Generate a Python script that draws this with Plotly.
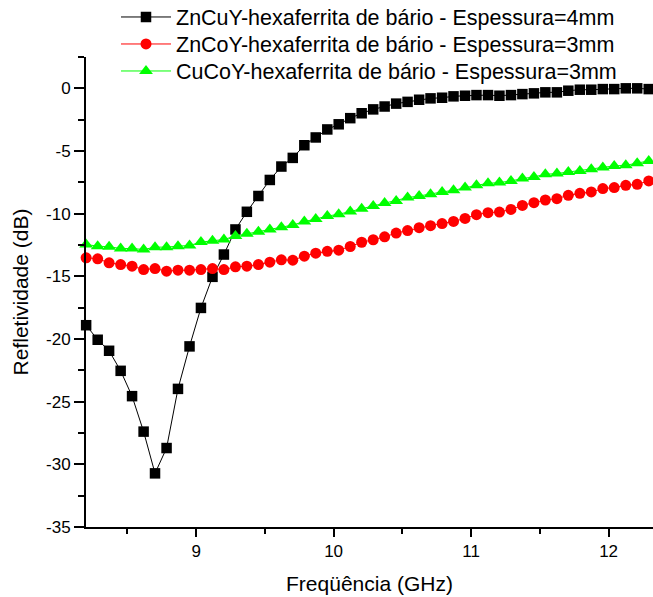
import plotly.graph_objects as go

freq = [8.200, 8.284, 8.367, 8.451, 8.534, 8.618, 8.701, 8.785, 8.868, 8.952,
        9.035, 9.119, 9.202, 9.286, 9.369, 9.453, 9.536, 9.620, 9.703, 9.787,
        9.870, 9.954, 10.037, 10.121, 10.204, 10.288, 10.371, 10.455, 10.538, 10.622,
        10.705, 10.789, 10.872, 10.956, 11.039, 11.123, 11.206, 11.290, 11.373, 11.457,
        11.540, 11.624, 11.707, 11.791, 11.874, 11.958, 12.041, 12.125, 12.208, 12.292]

zncuy_4mm = [-18.90, -20.06, -20.94, -22.54, -24.56, -27.39, -30.72, -28.70, -23.98, -20.59,
             -17.52, -15.04, -13.26, -11.26, -9.85, -8.59, -7.31, -6.24, -5.55, -4.54,
             -3.92, -3.28, -2.87, -2.38, -1.99, -1.68, -1.45, -1.22, -1.08, -0.91,
             -0.80, -0.75, -0.64, -0.59, -0.54, -0.54, -0.59, -0.54, -0.46, -0.40,
             -0.32, -0.32, -0.19, -0.11, -0.11, -0.06, -0.06, 0.00, 0.00, -0.06]

zncoy_3mm = [-13.52, -13.60, -13.92, -14.06, -14.19, -14.46, -14.38, -14.59, -14.51, -14.51,
             -14.46, -14.38, -14.46, -14.24, -14.19, -14.06, -13.87, -13.68, -13.71, -13.39,
             -13.15, -13.00, -12.91, -12.62, -12.28, -12.08, -11.85, -11.55, -11.35, -11.12,
             -10.96, -10.79, -10.62, -10.38, -10.08, -9.92, -9.87, -9.66, -9.34, -9.12,
             -8.91, -8.80, -8.54, -8.38, -8.27, -8.00, -7.92, -7.74, -7.66, -7.39]

cucoy_3mm = [-12.46, -12.59, -12.64, -12.78, -12.78, -12.86, -12.67, -12.67, -12.59, -12.54,
             -12.27, -12.16, -12.06, -11.79, -11.60, -11.44, -11.26, -11.08, -10.91, -10.63,
             -10.43, -10.19, -10.05, -9.83, -9.60, -9.39, -9.15, -8.99, -8.72, -8.59,
             -8.46, -8.27, -8.14, -7.92, -7.74, -7.58, -7.52, -7.39, -7.20, -7.07,
             -6.86, -6.80, -6.67, -6.59, -6.46, -6.32, -6.19, -6.14, -5.98, -5.79]

series_names = ["ZnCuY-hexaferrita de bário - Espessura=4mm",
                "ZnCoY-hexaferrita de bário - Espessura=3mm",
                "CuCoY-hexaferrita de bário - Espessura=3mm"]

x_tick_vals = [9, 10, 11, 12]
x_tick_text = ["9", "10", "11", "12"]
y_tick_vals = [0, -5, -10, -15, -20, -25, -30, -35]
y_tick_text = ["0", "-5", "-10", "-15", "-20", "-25", "-30", "-35"]

FONT = "Liberation Sans, Arial, sans-serif"

fig = go.Figure()
fig.add_trace(go.Scatter(x=freq, y=zncuy_4mm, name=series_names[0], mode="lines+markers",
                         line=dict(color="black", width=1),
                         marker=dict(symbol="square", size=10.5, color="black"),
                         cliponaxis=False, legend="legend"))
fig.add_trace(go.Scatter(x=freq, y=zncoy_3mm, name=series_names[1], mode="lines+markers",
                         line=dict(color="#ff0000", width=1),
                         marker=dict(symbol="circle", size=11, color="#ff0000"),
                         cliponaxis=False, legend="legend2"))
fig.add_trace(go.Scatter(x=freq, y=cucoy_3mm, name=series_names[2], mode="lines+markers",
                         line=dict(color="#00ff00", width=1),
                         marker=dict(symbol="triangle-up", size=12, color="#00ff00"),
                         cliponaxis=False, legend="legend3"))

PLOT_TOP = 57
PLOT_H = 597 - 57 - 70
LEG_X = (116 - 86) / 567


def leg(center_px):
    return dict(x=LEG_X, y=1 + (PLOT_TOP - center_px) / PLOT_H, xanchor="left", yanchor="middle",
                bgcolor="rgba(0,0,0,0)", borderwidth=0,
                font=dict(family=FONT, size=21.5, color="black"),
                itemwidth=50)


fig.update_layout(
    width=653, height=597,
    margin=dict(l=86, r=0, t=PLOT_TOP, b=70, pad=0, autoexpand=False),
    paper_bgcolor="white", plot_bgcolor="white",
    font=dict(family=FONT, color="black", size=17),
    showlegend=True,
    legend=leg(17),
    legend2=leg(44),
    legend3=leg(71),
    xaxis=dict(range=[8.199, 12.323], showgrid=False, zeroline=False, automargin=False,
               showline=True, linecolor="black", linewidth=2,
               ticks="outside", ticklen=8, tickwidth=2, tickcolor="black",
               tickvals=x_tick_vals, ticktext=x_tick_text,
               tickfont=dict(size=17),
               minor=dict(ticks="outside", ticklen=5, tickwidth=2, tickcolor="black",
                          tick0=8.5, dtick=0.5, showgrid=False),
               title=dict(text="Freqüência (GHz)", font=dict(size=21), standoff=16)),
    yaxis=dict(range=[-35, 2.5], showgrid=False, zeroline=False, automargin=False,
               showline=True, linecolor="black", linewidth=2,
               ticks="outside", ticklen=10, tickwidth=2, tickcolor="black",
               tickvals=y_tick_vals, ticktext=y_tick_text,
               tickfont=dict(size=17),
               minor=dict(ticks="outside", ticklen=6, tickwidth=2, tickcolor="black",
                          tick0=-2.5, dtick=5, showgrid=False),
               title=dict(text="Refletividade (dB)", font=dict(size=21), standoff=12)),
)

fig.write_html("out.html",
               config={"displayModeBar": False},
               post_script="document.body.style.margin='0px';document.body.style.overflow='hidden';")
